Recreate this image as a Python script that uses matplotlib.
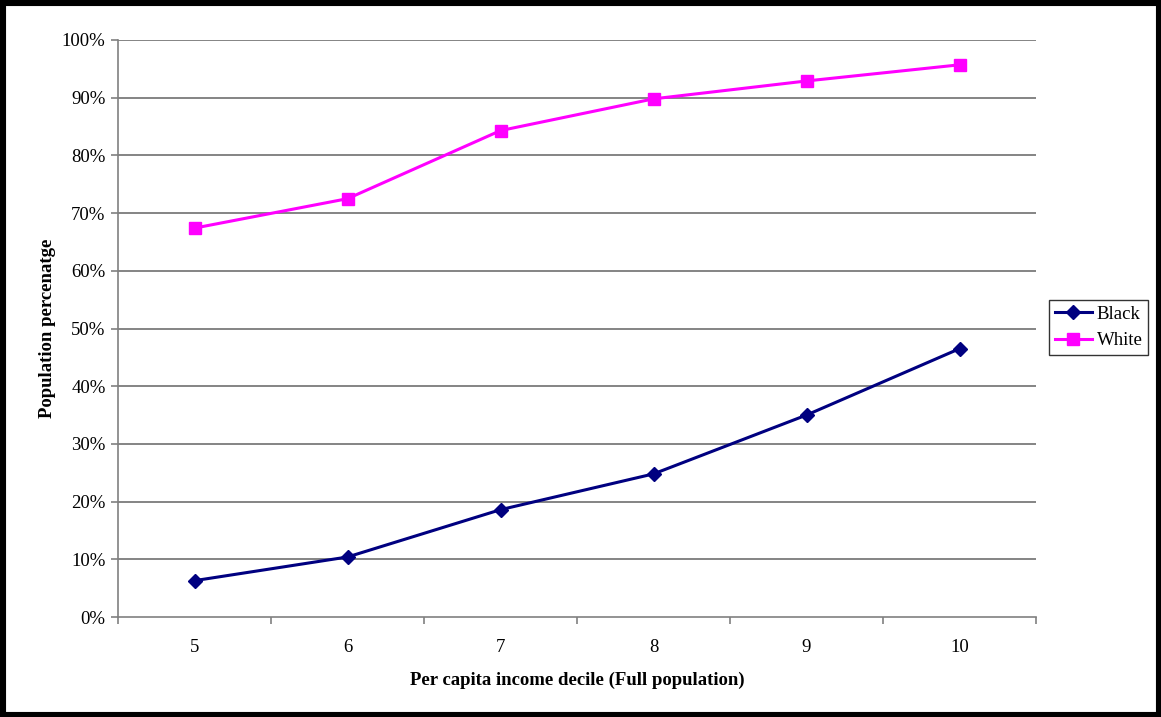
import matplotlib
matplotlib.use("Agg")
import matplotlib.pyplot as plt
from matplotlib.patches import Rectangle

deciles = ["5", "6", "7", "8", "9", "10"]
black = [6.3, 10.4, 18.6, 24.8, 35.0, 46.5]
white = [67.4, 72.5, 84.3, 89.8, 92.9, 95.7]
yticks = [0, 10, 20, 30, 40, 50, 60, 70, 80, 90, 100]

plt.rcParams['font.family'] = ['Liberation Serif', 'DejaVu Serif']
FS = 13.5

W, H = 1161, 717
fig = plt.figure(figsize=(W / 100, H / 100), dpi=100)
ax = fig.add_axes([118 / W, 1 - 617 / H, (1036 - 118) / W, (617 - 40) / H])

x = list(range(len(deciles)))
ax.plot(x, black, color='#000080', lw=2.2, marker='D', ms=7, label='Black', zorder=3)
ax.plot(x, white, color='#FF00FF', lw=2.2, marker='s', ms=8, label='White', zorder=3)

ax.set_xlim(-0.5, len(deciles) - 0.5)
ax.set_ylim(0, 100)
ax.set_yticks(yticks)
ax.set_yticklabels([f"{v}%" for v in yticks])
ax.set_xticks(x)
ax.set_xticklabels(deciles)
ax.set_xticks([i - 0.5 for i in range(len(deciles) + 1)], minor=True)
ax.tick_params(axis='x', which='major', length=0, pad=16, labelsize=FS)
ax.tick_params(axis='x', which='minor', length=5, color='#808080', width=1.2, direction='out')
ax.tick_params(axis='y', length=5, color='#808080', width=1.2, labelsize=FS, pad=4)

for yv in yticks[1:]:
    ax.axhline(yv, color='#707070', lw=1.2, zorder=1)

for s in ['top', 'right']:
    ax.spines[s].set_visible(False)
for s in ['left', 'bottom']:
    ax.spines[s].set_color('#808080')
    ax.spines[s].set_linewidth(1.2)

ax.set_xlabel('Per capita income decile (Full population)', fontsize=FS, fontweight='bold', labelpad=11)
ax.set_ylabel('Population percenatge', fontsize=FS, fontweight='bold', labelpad=4)

leg = fig.legend(loc='upper left', bbox_to_anchor=(1049 / W, 1 - 300 / H), frameon=True,
                 fontsize=FS, fancybox=False, edgecolor='black', borderpad=0.3,
                 handlelength=2.0, handletextpad=0.25, labelspacing=0.5, borderaxespad=0)
leg.get_frame().set_linewidth(1.0)

fig.patches.append(Rectangle((0, 0), 1, 1, transform=fig.transFigure, fill=False,
                             edgecolor='black', linewidth=8, zorder=10))

fig.savefig('out.png', dpi=100)
